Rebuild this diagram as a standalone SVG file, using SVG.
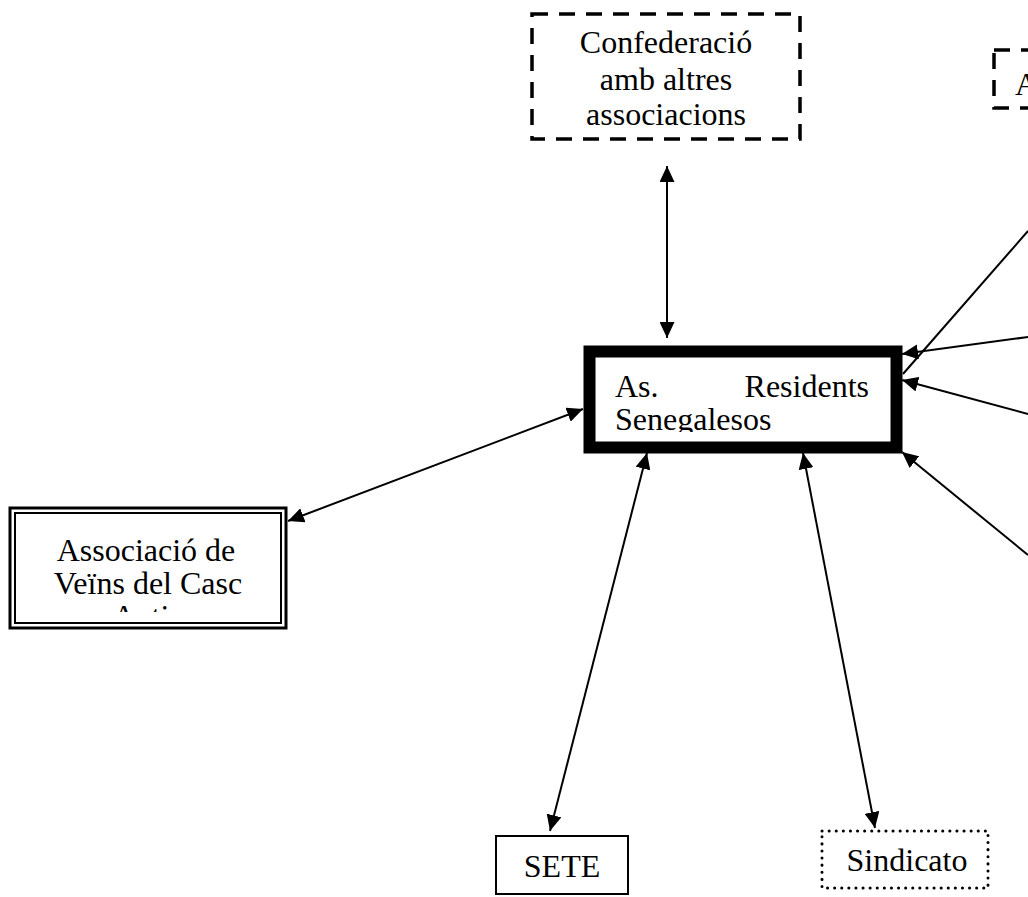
<svg xmlns="http://www.w3.org/2000/svg" width="1028" height="897" viewBox="0 0 1028 897">
<style>
  text { font-family: "Liberation Serif", "Times New Roman", serif; font-size: 32px; fill: #000; }
  .c { text-anchor: middle; }
  .edge { stroke: #000; stroke-width: 2; fill: none; }
  .dash { fill: #fff; stroke: #000; stroke-width: 3.5; stroke-dasharray: 16 11; }
  .dot { fill: #fff; stroke: #000; stroke-width: 3; stroke-linecap: round; stroke-dasharray: 0.1 7; }
</style>
<defs>
  <marker id="ah" markerUnits="userSpaceOnUse" markerWidth="16" markerHeight="15" refX="16" refY="7.5" orient="auto-start-reverse" viewBox="0 0 16 15">
    <path d="M0,0 L16,7.5 L0,15 z" fill="#000"/>
  </marker>
  <clipPath id="clipMain"><rect x="596" y="357" width="295" height="75"/></clipPath>
  <clipPath id="clipAssoc"><rect x="16" y="514" width="265" height="98"/></clipPath>
</defs>

<g id="connectors">
  <line class="edge" x1="667" y1="166" x2="667" y2="338" marker-start="url(#ah)" marker-end="url(#ah)"/>
  <line class="edge" x1="583" y1="409" x2="288" y2="521" marker-start="url(#ah)" marker-end="url(#ah)"/>
  <line class="edge" x1="647" y1="453" x2="550" y2="831" marker-start="url(#ah)" marker-end="url(#ah)"/>
  <line class="edge" x1="803" y1="453" x2="875" y2="828" marker-start="url(#ah)" marker-end="url(#ah)"/>
  <line class="edge" x1="1028" y1="231" x2="903" y2="374"/>
  <line class="edge" x1="1028" y1="337" x2="902" y2="354" marker-end="url(#ah)"/>
  <line class="edge" x1="1028" y1="414" x2="902" y2="380" marker-end="url(#ah)"/>
  <line class="edge" x1="1028" y1="555" x2="902" y2="452" marker-end="url(#ah)"/>
</g>

<g id="node-confederacio">
  <rect class="dash" x="532" y="14" width="268" height="125"/>
  <text class="c" x="666" y="53">Confederació</text>
  <text class="c" x="666" y="90">amb altres</text>
  <text class="c" x="666" y="125">associacions</text>
</g>

<g id="node-a">
  <rect class="dash" x="994" y="50" width="100" height="58"/>
  <text x="1015" y="95">A</text>
</g>

<g id="node-main">
  <rect x="589.5" y="351.5" width="307" height="96" fill="#fff" stroke="#000" stroke-width="12"/>
  <g clip-path="url(#clipMain)">
    <text x="615" y="397">As.</text>
    <text x="869" y="397" text-anchor="end">Residents</text>
    <text x="615" y="430">Senegalesos</text>
  </g>
</g>

<g id="node-assoc">
  <rect x="10" y="508" width="276" height="120" fill="#fff" stroke="#000" stroke-width="3"/>
  <rect x="15" y="513" width="266" height="110" fill="none" stroke="#000" stroke-width="2"/>
  <g clip-path="url(#clipAssoc)">
    <text class="c" x="146" y="561">Associació de</text>
    <text class="c" x="148" y="594">Veïns del Casc</text>
    <text class="c" x="148" y="627">Antic</text>
  </g>
</g>

<g id="node-sete">
  <rect x="496" y="836" width="132" height="58" fill="#fff" stroke="#000" stroke-width="2"/>
  <text class="c" x="562" y="877">SETE</text>
</g>

<g id="node-sindicato">
  <rect class="dot" x="822" y="831" width="166" height="57"/>
  <text class="c" x="907" y="871">Sindicato</text>
</g>
</svg>
